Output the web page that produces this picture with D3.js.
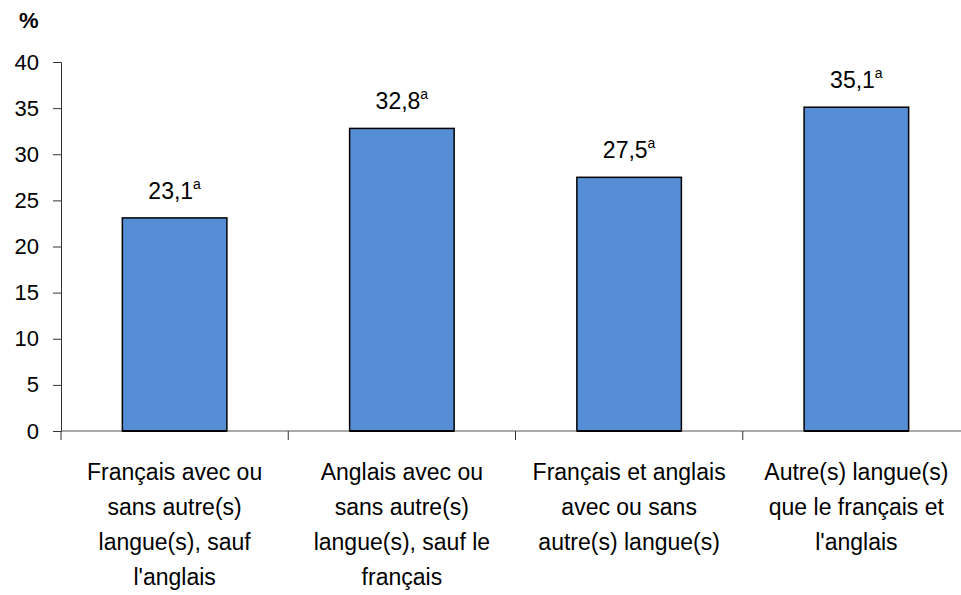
<!DOCTYPE html>
<html>
<head>
<meta charset="utf-8">
<script src="https://cdn.jsdelivr.net/npm/d3@7"></script>
<style>
  body { margin: 0; background: #fff; }
  svg text { font-family: "Liberation Sans", Arial, sans-serif; fill: #000; }
</style>
</head>
<body>
<div id="chart"></div>
<script>
// data
const categories = [
    ["Français avec ou", "sans autre(s)", "langue(s), sauf", "l'anglais"],
    ["Anglais avec ou", "sans autre(s)", "langue(s), sauf le", "français"],
    ["Français et anglais", "avec ou sans", "autre(s) langue(s)"],
    ["Autre(s) langue(s)", "que le français et", "l'anglais"]
];
const values = [23.1, 32.8, 27.5, 35.1];
const valueLabels = ["23,1", "32,8", "27,5", "35,1"];
const yTicks = [0, 5, 10, 15, 20, 25, 30, 35, 40];

const width = 961, height = 595;
const margin = {top: 62, left: 61, right: -9, bottom: 164};

const svg = d3.select("#chart").append("svg")
    .attr("width", width)
    .attr("height", height);

const x = d3.scaleBand()
    .domain(d3.range(values.length))
    .range([margin.left, width - margin.right])
    .paddingInner(0.54)
    .paddingOuter(0.27);

const y = d3.scaleLinear()
    .domain([0, 40])
    .range([height - margin.bottom, margin.top]);

// category boundaries for x ticks
const step = (width - margin.right - margin.left) / values.length;

// bars
svg.selectAll(".bar")
    .data(values)
    .enter()
    .append("rect")
    .attr("class", "bar")
    .attr("x", (d, i) => x(i))
    .attr("y", d => y(d))
    .attr("width", x.bandwidth())
    .attr("height", d => y(0) - y(d))
    .attr("fill", "#558ed5")
    .attr("stroke", "#000")
    .attr("stroke-width", 1.5);

// y axis
const yAxis = svg.append("g")
    .attr("transform", `translate(${margin.left},0)`)
    .call(d3.axisLeft(y).tickValues(yTicks).tickSize(8).tickPadding(14));
yAxis.select(".domain").attr("stroke", "#333");
yAxis.selectAll(".tick line").attr("stroke", "#333");
yAxis.selectAll("text").style("font-size", "22px").attr("fill", "#000");

// x axis line and ticks
svg.append("line")
    .attr("x1", margin.left).attr("x2", width)
    .attr("y1", y(0)).attr("y2", y(0))
    .attr("stroke", "#555").attr("stroke-width", 1);
svg.selectAll(".xtick")
    .data(d3.range(values.length))
    .enter()
    .append("line")
    .attr("x1", i => margin.left + i * step)
    .attr("x2", i => margin.left + i * step)
    .attr("y1", y(0))
    .attr("y2", y(0) + 9)
    .attr("stroke", "#333");

// redraw bar bottoms over axis
svg.selectAll(".barbase")
    .data(values)
    .enter()
    .append("line")
    .attr("x1", (d, i) => x(i))
    .attr("x2", (d, i) => x(i) + x.bandwidth())
    .attr("y1", y(0)).attr("y2", y(0))
    .attr("stroke", "#000").attr("stroke-width", 2);

// value labels
const lbl = svg.selectAll(".vlabel")
    .data(values)
    .enter()
    .append("text")
    .attr("class", "vlabel")
    .attr("x", (d, i) => x(i) + x.bandwidth() / 2)
    .attr("y", d => y(d) - 19)
    .attr("text-anchor", "middle")
    .style("font-size", "23px");
lbl.append("tspan").text((d, i) => valueLabels[i]);
lbl.append("tspan")
    .attr("dy", -10)
    .style("font-size", "14px")
    .text("a");

// category labels
svg.selectAll(".clabel")
    .data(categories)
    .enter()
    .append("text")
    .attr("class", "clabel")
    .attr("text-anchor", "middle")
    .style("font-size", "23px")
    .each(function(lines, i) {
        d3.select(this).selectAll("tspan")
            .data(lines)
            .enter()
            .append("tspan")
            .attr("x", x(i) + x.bandwidth() / 2)
            .attr("y", (d, j) => 480 + j * 35)
            .text(d => d);
    });

// unit label
svg.append("text")
    .attr("x", 19)
    .attr("y", 28)
    .style("font-size", "22px")
    .style("font-weight", "bold")
    .text("%");
</script>
</body>
</html>
